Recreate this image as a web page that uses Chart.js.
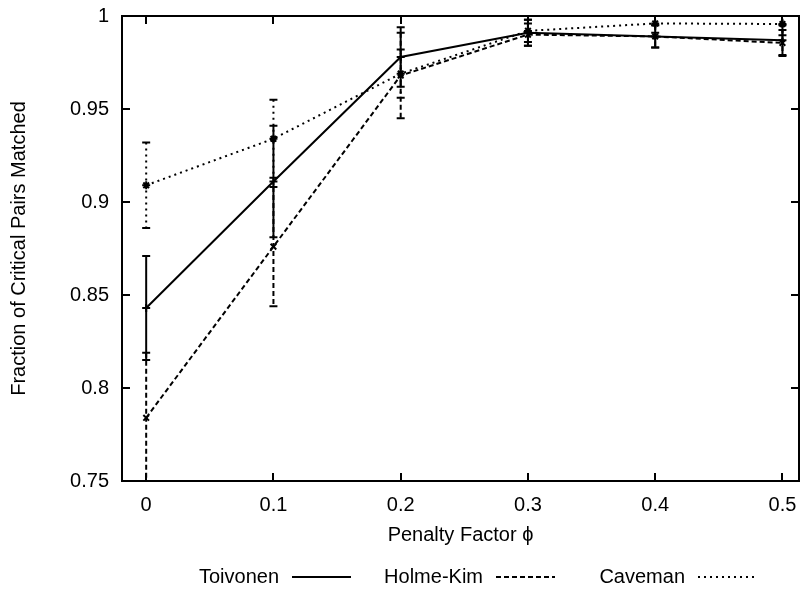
<!DOCTYPE html>
<html>
<head>
<meta charset="utf-8">
<script src="https://cdn.jsdelivr.net/npm/chart.js@4/dist/chart.umd.min.js"></script>
<style>
  html, body { margin: 0; padding: 0; background: #fff; }
</style>
</head>
<body>
<canvas id="myChart" width="808" height="591"></canvas>
<script>
'use strict';

//////////////////////
// data
//////////////////////

const penalty = [0, 0.1, 0.2, 0.3, 0.4, 0.5];
const xTicks = [0, 0.1, 0.2, 0.3, 0.4, 0.5];
const yTicks = [0.75, 0.8, 0.85, 0.9, 0.95, 1];

const toivonen = [0.843, 0.911, 0.978, 0.991, 0.989, 0.987];
const toivonenErr = [0.028, 0.030, 0.016, 0.007, 0.006, 0.008];

const holmeKim = [0.784, 0.876, 0.968, 0.990, 0.989, 0.9855];
const holmeKimErr = [0.035, 0.032, 0.023, 0.006, 0.006, 0.007];

const caveman = [0.909, 0.934, 0.969, 0.992, 0.996, 0.9957];
const cavemanErr = [0.023, 0.021, 0.013, 0.006, 0.005, 0.006];

const FONT = "'Liberation Sans', Arial, sans-serif";
const FONT_SIZE = 20;

function points(values) {
  return penalty.map((x, i) => ({ x: x, y: values[i] }));
}

function series(label, values, errors, dash, pointStyle) {
  return {
    label: label,
    data: points(values),
    errors: errors,
    borderColor: '#000',
    backgroundColor: '#000',
    borderWidth: 2,
    borderDash: dash,
    pointStyle: pointStyle,
    pointRadius: 4,
    pointBorderWidth: 2,
    pointBorderColor: '#000',
    tension: 0
  };
}

//////////////////////
// plugins
//////////////////////

// vertical error bars, positioned through the chart scales
const errorBars = {
  id: 'errorBars',
  afterDatasetsDraw(chart) {
    const ctx = chart.ctx;
    const xs = chart.scales.x;
    const ys = chart.scales.y;
    const area = chart.chartArea;
    ctx.save();
    ctx.beginPath();
    ctx.rect(area.left, area.top, area.right - area.left, area.bottom - area.top);
    ctx.clip();
    ctx.strokeStyle = '#000';
    ctx.lineWidth = 2;
    for (let ds of chart.data.datasets) {
      ds.data.forEach((p, i) => {
        const px = xs.getPixelForValue(p.x);
        const top = ys.getPixelForValue(p.y + ds.errors[i]);
        const bot = ys.getPixelForValue(p.y - ds.errors[i]);
        ctx.setLineDash(ds.borderDash);
        ctx.beginPath();
        ctx.moveTo(px, top);
        ctx.lineTo(px, bot);
        ctx.stroke();
        ctx.setLineDash([]);
        ctx.beginPath();
        ctx.moveTo(px - 4, top);
        ctx.lineTo(px + 4, top);
        ctx.moveTo(px - 4, bot);
        ctx.lineTo(px + 4, bot);
        ctx.stroke();
      });
    }
    ctx.restore();
  }
};

// border box with inward ticks on all four sides
const frame = {
  id: 'frame',
  afterDraw(chart) {
    const ctx = chart.ctx;
    const a = chart.chartArea;
    const len = 8;
    ctx.save();
    ctx.strokeStyle = '#000';
    ctx.lineWidth = 2;
    ctx.strokeRect(a.left, a.top, a.right - a.left, a.bottom - a.top);
    ctx.beginPath();
    for (let v of xTicks) {
      const px = Math.round(chart.scales.x.getPixelForValue(v));
      ctx.moveTo(px, a.bottom);
      ctx.lineTo(px, a.bottom - len);
      ctx.moveTo(px, a.top);
      ctx.lineTo(px, a.top + len);
    }
    for (let v of yTicks) {
      const py = Math.round(chart.scales.y.getPixelForValue(v));
      ctx.moveTo(a.left, py);
      ctx.lineTo(a.left + len, py);
      ctx.moveTo(a.right, py);
      ctx.lineTo(a.right - len, py);
    }
    ctx.stroke();
    ctx.restore();
  }
};

// gnuplot style key: text first, then a line sample
const keyBelow = {
  id: 'keyBelow',
  afterDraw(chart) {
    const ctx = chart.ctx;
    const y = 577;
    const textRight = [279, 483, 685];
    ctx.save();
    ctx.font = FONT_SIZE + 'px ' + FONT;
    ctx.fillStyle = '#000';
    ctx.textAlign = 'right';
    ctx.textBaseline = 'middle';
    chart.data.datasets.forEach((ds, i) => {
      ctx.fillText(ds.label, textRight[i], y);
      ctx.strokeStyle = '#000';
      ctx.lineWidth = 2;
      ctx.setLineDash(ds.borderDash);
      ctx.beginPath();
      ctx.moveTo(textRight[i] + 13, y);
      ctx.lineTo(textRight[i] + 72, y);
      ctx.stroke();
    });
    ctx.restore();
  }
};

//////////////////////
// chart
//////////////////////

const data = {
  datasets: [
    series('Toivonen', toivonen, toivonenErr, [], 'cross'),
    series('Holme-Kim', holmeKim, holmeKimErr, [5, 3], 'crossRot'),
    series('Caveman', caveman, cavemanErr, [2, 4], 'star')
  ]
};

const config = {
  type: 'line',
  data: data,
  options: {
    responsive: false,
    animation: false,
    devicePixelRatio: 1,
    layout: { padding: { top: 16, right: 9, bottom: 40, left: 0 } },
    plugins: {
      legend: { display: false },
      tooltip: { enabled: false }
    },
    scales: {
      x: {
        type: 'linear',
        min: -0.019,
        max: 0.513,
        afterBuildTicks: axis => { axis.ticks = xTicks.map(v => ({ value: v })); },
        afterFit: axis => {
          axis.height = 70;
          axis.paddingLeft = 0;
          axis.paddingRight = 0;
        },
        grid: { display: false, drawTicks: false },
        border: { display: false },
        ticks: {
          padding: 12,
          color: '#000',
          font: { family: FONT, size: FONT_SIZE },
          callback: v => String(+v.toFixed(2))
        },
        title: {
          display: true,
          text: 'Penalty Factor \u03d5',
          color: '#000',
          font: { family: FONT, size: FONT_SIZE },
          padding: { top: 0, bottom: 4 }
        }
      },
      y: {
        min: 0.75,
        max: 1,
        afterBuildTicks: axis => { axis.ticks = yTicks.map(v => ({ value: v })); },
        afterFit: axis => {
          axis.width = 122;
          axis.paddingTop = 0;
          axis.paddingBottom = 0;
        },
        grid: { display: false, drawTicks: false },
        border: { display: false },
        ticks: {
          padding: 13,
          color: '#000',
          font: { family: FONT, size: FONT_SIZE },
          callback: v => String(+v.toFixed(2))
        },
        title: {
          display: true,
          text: 'Fraction of Critical Pairs Matched',
          color: '#000',
          font: { family: FONT, size: FONT_SIZE },
          padding: { top: 7, bottom: 0 }
        }
      }
    }
  },
  plugins: [errorBars, frame, keyBelow]
};

const myChart = new Chart(document.getElementById('myChart'), config);
</script>
</body>
</html>
